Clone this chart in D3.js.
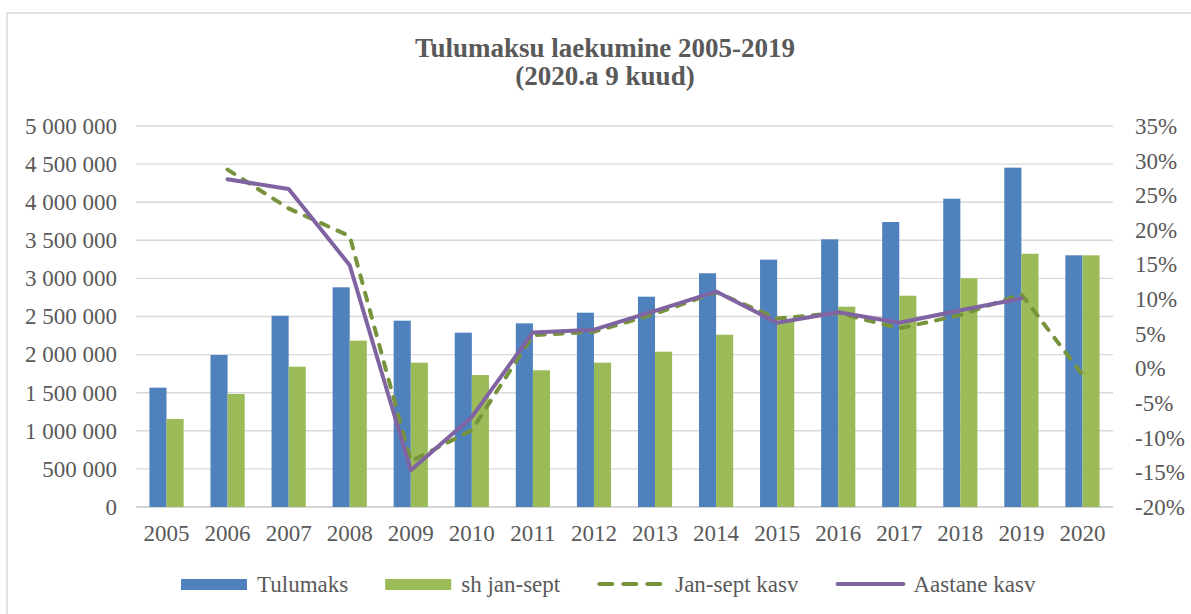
<!DOCTYPE html>
<html>
<head>
<meta charset="utf-8">
<script src="https://cdn.jsdelivr.net/npm/d3@7"></script>
<style>
  body { margin: 0; background: #fff; }
  text { font-family: "Liberation Serif", "Times New Roman", serif; fill: #595959; }
</style>
</head>
<body>
<svg id="canvas" width="1191" height="614"></svg>
<script>
// chart values
let years = ["2005", "2006", "2007", "2008", "2009", "2010", "2011", "2012",
             "2013", "2014", "2015", "2016", "2017", "2018", "2019", "2020"];
let tulumaks = [1566000, 1995000, 2510000, 2883000, 2445000, 2288000, 2410000, 2550000,
                2760000, 3067000, 3246000, 3513000, 3740000, 4046000, 4453000, 3303000];
let janSept = [1155000, 1483000, 1841000, 2183000, 1894000, 1732000, 1794000, 1894000,
               2038000, 2261000, 2430000, 2629000, 2773000, 3001000, 3324000, 3303000];
// growth in %
let janSeptKasv = [null, 28.7, 23.1, 19.1, -13.4, -8.9, 4.8, 5.3,
                   7.9, 11.0, 7.2, 8.0, 5.8, 7.7, 10.7, -0.9];
let aastaneKasv = [null, 27.3, 25.9, 14.9, -14.7, -7.0, 5.2, 5.6,
                   8.3, 11.1, 6.6, 8.1, 6.6, 8.4, 10.1, null];

let leftTicks = d3.range(0, 5000001, 500000);
let rightTicks = d3.range(-20, 36, 5);
let titleLines = ["Tulumaksu laekumine 2005-2019", "(2020.a 9 kuud)"];
let legendNames = ["Tulumaks", "sh jan-sept", "Jan-sept kasv", "Aastane kasv"];

let blue = "#4F81BD", green = "#9BBB59", darkGreen = "#77933C", purple = "#8064A2";

let canvas = d3.select("#canvas");
let plotLeft = 136, plotRight = 1113, plotTop = 126, plotBottom = 507;

// frame
canvas.append("rect")
  .attr("x", 7).attr("y", 13).attr("width", 1300).attr("height", 800)
  .attr("fill", "none").attr("stroke", "#D9D9D9").attr("stroke-width", 1.5);

// title
canvas.selectAll(".title")
  .data(titleLines)
  .enter()
  .append("text")
  .attr("class", "title")
  .attr("x", 605)
  .attr("y", (d, i) => 57 + i * 28)
  .attr("text-anchor", "middle")
  .style("font-size", "27px")
  .style("font-weight", "bold")
  .text(d => d);

let x0 = d3.scaleBand().domain(years).range([plotLeft, plotRight]).paddingInner(0.44).paddingOuter(0.22);
let x1 = d3.scaleBand().domain(["t", "j"]).range([0, x0.bandwidth()]);
let yLeft = d3.scaleLinear().domain([0, 5000000]).range([plotBottom, plotTop]);
let yRight = d3.scaleLinear().domain([-20, 35]).range([plotBottom, plotTop]);

let center = (d) => x0(d) + x0.bandwidth() / 2;

// gridlines
canvas.append("g")
  .selectAll("line")
  .data(leftTicks)
  .enter()
  .append("line")
  .attr("x1", plotLeft).attr("x2", plotRight)
  .attr("y1", d => yLeft(d)).attr("y2", d => yLeft(d))
  .attr("stroke", d => d === 0 ? "#C8C8C8" : "#D9D9D9")
  .attr("stroke-width", 1.4);

// axes
let fmtNum = (d) => d3.format(",")(d).replace(/,/g, " ");
let leftAxis = canvas.append("g")
  .attr("transform", "translate(" + plotLeft + ",0)")
  .call(d3.axisLeft(yLeft).tickValues(leftTicks).tickFormat(fmtNum).tickSize(0).tickPadding(19));
let rightAxis = canvas.append("g")
  .attr("transform", "translate(" + plotRight + ",0)")
  .call(d3.axisRight(yRight).tickValues(rightTicks).tickFormat(d => d + "%").tickSize(0).tickPadding(22));
let bottomAxis = canvas.append("g")
  .attr("transform", "translate(0," + plotBottom + ")")
  .call(d3.axisBottom(x0).tickSize(0).tickPadding(18));

[leftAxis, rightAxis, bottomAxis].forEach(ax => {
  ax.select(".domain").remove();
  ax.selectAll("text")
    .attr("fill", null)
    .style("font-size", "23px")
    .style("font-family", "'Liberation Serif', 'Times New Roman', serif");
});

// bars
let groups = canvas.append("g")
  .selectAll("g")
  .data(years)
  .enter()
  .append("g")
  .attr("transform", d => "translate(" + x0(d) + ",0)");

groups.append("rect")
  .attr("x", x1("t"))
  .attr("width", x1.bandwidth())
  .attr("y", (d, i) => yLeft(tulumaks[i]))
  .attr("height", (d, i) => plotBottom - yLeft(tulumaks[i]))
  .attr("fill", blue);

groups.append("rect")
  .attr("x", x1("j"))
  .attr("width", x1.bandwidth())
  .attr("y", (d, i) => yLeft(janSept[i]))
  .attr("height", (d, i) => plotBottom - yLeft(janSept[i]))
  .attr("fill", green);

// growth lines
let line = d3.line()
  .defined(d => d.v !== null)
  .x(d => center(d.year))
  .y(d => yRight(d.v));

canvas.append("path")
  .datum(years.map((y, i) => ({ year: y, v: janSeptKasv[i] })))
  .attr("d", line)
  .attr("fill", "none")
  .attr("stroke", darkGreen)
  .attr("stroke-width", 4)
  .attr("stroke-linecap", "round")
  .attr("stroke-dasharray", "8,10");

canvas.append("path")
  .datum(years.map((y, i) => ({ year: y, v: aastaneKasv[i] })))
  .attr("d", line)
  .attr("fill", "none")
  .attr("stroke", purple)
  .attr("stroke-width", 4)
  .attr("stroke-linejoin", "round")
  .attr("stroke-linecap", "round");

// legend
let legend = canvas.append("g");
let lx = 181;
legendNames.forEach((name, i) => {
  let item = legend.append("g").attr("transform", "translate(" + lx + ",0)");
  if (i < 2) {
    item.append("rect")
      .attr("x", 0).attr("y", 579).attr("width", 66).attr("height", 11)
      .attr("fill", i === 0 ? blue : green);
  } else {
    item.append("line")
      .attr("x1", 2).attr("x2", i === 2 ? 64 : 68)
      .attr("y1", 584).attr("y2", 584)
      .attr("stroke", i === 2 ? darkGreen : purple)
      .attr("stroke-width", 4)
      .attr("stroke-linecap", "round")
      .attr("stroke-dasharray", i === 2 ? "13,11" : null);
  }
  let offset = i < 2 ? 76 : 78;
  let t = item.append("text")
    .attr("x", offset)
    .attr("y", 592)
    .style("font-size", "23px")
    .text(name);
  lx += offset + t.node().getComputedTextLength() + 37;
});
</script>
</body>
</html>
